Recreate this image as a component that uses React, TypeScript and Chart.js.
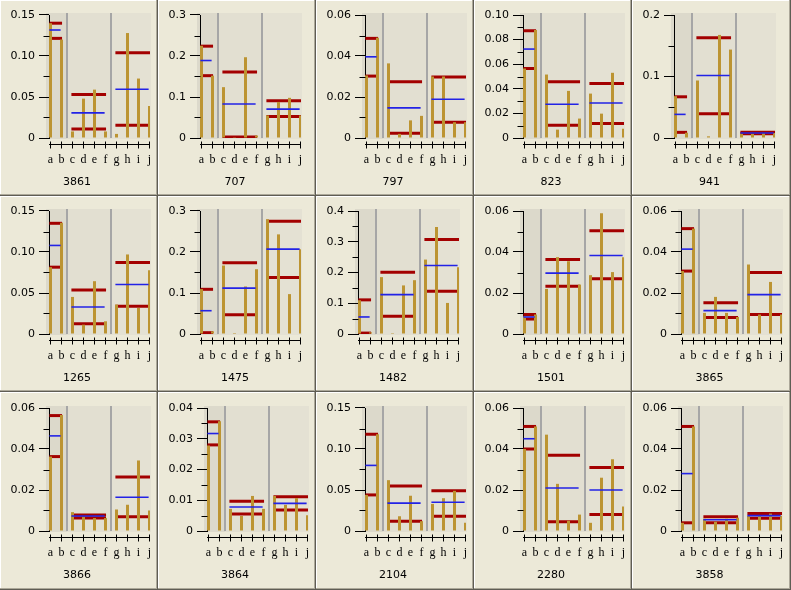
import React, { useEffect, useRef } from "react";
import { Chart, registerables } from "chart.js";

Chart.register(...registerables);

const categories = ["a", "b", "c", "d", "e", "f", "g", "h", "i", "j"];
const groupRanges = [[0, 1], [2, 5], [6, 9]];
const panelTitles = ["3861", "707", "797", "823", "941", "1265", "1475", "1482", "1501", "3865", "3866", "3864", "2104", "2280", "3858"];
const yMaxValues = [0.15, 0.3, 0.06, 0.1, 0.2, 0.15, 0.3, 0.4, 0.06, 0.06, 0.06, 0.04, 0.15, 0.06, 0.06];
const yStepValues = [0.05, 0.1, 0.02, 0.02, 0.1, 0.05, 0.1, 0.1, 0.02, 0.02, 0.02, 0.01, 0.05, 0.02, 0.02];
const yTickLabels = [
  ["0", "0.05", "0.10", "0.15"],
  ["0", "0.1", "0.2", "0.3"],
  ["0", "0.02", "0.04", "0.06"],
  ["0", "0.02", "0.04", "0.06", "0.08", "0.10"],
  ["0", "0.1", "0.2"],
  ["0", "0.05", "0.10", "0.15"],
  ["0", "0.1", "0.2", "0.3"],
  ["0", "0.1", "0.2", "0.3", "0.4"],
  ["0", "0.02", "0.04", "0.06"],
  ["0", "0.02", "0.04", "0.06"],
  ["0", "0.02", "0.04", "0.06"],
  ["0", "0.01", "0.02", "0.03", "0.04"],
  ["0", "0.05", "0.10", "0.15"],
  ["0", "0.02", "0.04", "0.06"],
  ["0", "0.02", "0.04", "0.06"],
];

const barValues = [
  [0.14, 0.12, 0.008, 0.048, 0.059, 0.008, 0.005, 0.128, 0.0725, 0.039],
  [0.225, 0.152, 0.124, 0.002, 0.197, 0.006, 0.055, 0.088, 0.098, 0.055],
  [0.0305, 0.0489, 0.0364, 0.002, 0.0086, 0.0108, 0.03, 0.03, 0.0077, 0.0077],
  [0.0565, 0.0878, 0.0516, 0.0068, 0.0383, 0.0158, 0.0361, 0.0198, 0.053, 0.0076],
  [0.068, 0.0086, 0.0935, 0.0027, 0.1676, 0.1438, 0.007, 0.007, 0.008, 0.008],
  [0.0815, 0.1357, 0.0452, 0.0114, 0.0644, 0.0155, 0.0359, 0.097, 0.0318, 0.0778],
  [0.1095, 0.0065, 0.167, 0.0024, 0.116, 0.158, 0.28, 0.243, 0.0973, 0.207],
  [0.1098, 0.0054, 0.185, 0.003, 0.158, 0.175, 0.242, 0.348, 0.101, 0.217],
  [0.0086, 0.0095, 0.022, 0.0375, 0.0355, 0.0241, 0.0287, 0.0589, 0.0302, 0.0375],
  [0.0307, 0.0514, 0.0103, 0.0181, 0.0103, 0.0083, 0.0339, 0.0095, 0.0254, 0.0095],
  [0.0363, 0.0566, 0.0092, 0.0068, 0.0063, 0.0063, 0.0105, 0.0128, 0.0344, 0.01],
  [0.0278, 0.0357, 0.0072, 0.0049, 0.0114, 0.0072, 0.0114, 0.0085, 0.0107, 0.0051],
  [0.044, 0.118, 0.062, 0.018, 0.043, 0.012, 0.033, 0.04, 0.049, 0.01],
  [0.04, 0.051, 0.047, 0.023, 0.005, 0.008, 0.004, 0.026, 0.035, 0.012],
  [0.004, 0.051, 0.006, 0.0045, 0.006, 0.0065, 0.0075, 0.0075, 0.0085, 0.0075],
];

const upperValues = [
  [0.14, 0.053, 0.104],
  [0.224, 0.161, 0.091],
  [0.0486, 0.0274, 0.0297],
  [0.0872, 0.0457, 0.0443],
  [0.067, 0.163, 0.0092],
  [0.135, 0.0538, 0.0872],
  [0.109, 0.1735, 0.275],
  [0.111, 0.201, 0.3076],
  [0.0095, 0.0364, 0.0504],
  [0.0514, 0.0152, 0.03],
  [0.0563, 0.0078, 0.0264],
  [0.0355, 0.0097, 0.0111],
  [0.118, 0.055, 0.049],
  [0.051, 0.037, 0.031],
  [0.051, 0.007, 0.0085],
];

const meanValues = [
  [0.1317, 0.0306, 0.0595],
  [0.189, 0.083, 0.0705],
  [0.0396, 0.0147, 0.0189],
  [0.0723, 0.0274, 0.0285],
  [0.0384, 0.1016, 0.0081],
  [0.108, 0.033, 0.0603],
  [0.0568, 0.112, 0.207],
  [0.0554, 0.128, 0.223],
  [0.0083, 0.0297, 0.0383],
  [0.0414, 0.0114, 0.0192],
  [0.0464, 0.0073, 0.0165],
  [0.0317, 0.0078, 0.009],
  [0.08, 0.034, 0.035],
  [0.045, 0.021, 0.02],
  [0.028, 0.0055, 0.0075],
];

const lowerValues = [
  [0.1215, 0.011, 0.0155],
  [0.152, 0.0025, 0.0527],
  [0.0302, 0.0023, 0.0077],
  [0.0565, 0.0103, 0.0117],
  [0.0092, 0.0395, 0.007],
  [0.0815, 0.0126, 0.0338],
  [0.0032, 0.047, 0.138],
  [0.003, 0.0576, 0.139],
  [0.0073, 0.0233, 0.0269],
  [0.0307, 0.008, 0.0095],
  [0.0363, 0.0063, 0.007],
  [0.028, 0.0055, 0.0068],
  [0.044, 0.012, 0.018],
  [0.04, 0.0045, 0.008],
  [0.004, 0.004, 0.0062],
];

const PANEL_BG = "#ece9d8";
const GROUP_BG = ["#dcd9cb", "#e2dfd1", "#e4e1d3"];
const BAR_COLOR = "#bc9432";
const RED = "#a30000";
const BLUE = "#2222e6";
const SEP = "#a6a6a6";
const NUM_FONT = "'DejaVu Sans'";
const LETTER_FONT = "'Liberation Serif'";
const X_MIN = -1.5 / 11;
const X_MAX = 9 + 0.5 / 11;
const PLOT_W = 101;

function Panel({ index }: { index: number }) {
  const ref = useRef<HTMLCanvasElement | null>(null);
  const col = index % 5;
  const row = Math.floor(index / 5);
  const W = col === 4 ? 159 : 158;
  const H = row === 2 ? 198 : 196;
  const left = col * 158;
  const top = row * 196;

  useEffect(() => {
    const canvas = ref.current;
    if (!canvas) return;
    const labels = yTickLabels[index];
    const step = yStepValues[index];
    const yMax = yMaxValues[index];
    const tickVals = labels.map((_, k) => k * step);

    const m = document.createElement("canvas").getContext("2d")!;
    m.font = `11px ${NUM_FONT}`;
    const lw = Math.max(...labels.map((l) => m.measureText(l).width));
    const yW = Math.round(11 + lw + 14);
    const topPad = row === 2 ? 16 : 15;
    const zeroY = row === 2 ? 139 : 138;

    const datasets: any[] = [];
    datasets.push({
      type: "bar",
      data: barValues[index].map((v, i) => ({ x: i, y: v })),
      backgroundColor: BAR_COLOR,
      borderWidth: 0,
      barThickness: 3,
      inflateAmount: 0,
      order: 2,
    });
    groupRanges.forEach(([s, e], g) => {
      [upperValues[index][g], lowerValues[index][g]].forEach((v) => {
        datasets.push({
          type: "line",
          data: [
            { x: s - 0.1, y: v },
            { x: e + 0.05, y: v },
          ],
          borderColor: RED,
          borderWidth: 3,
          borderCapStyle: "butt",
          pointRadius: 0,
          fill: false,
          order: 3,
        });
      });
      datasets.push({
        type: "line",
        data: [
          { x: s - 0.1, y: meanValues[index][g] },
          { x: e - 0.08, y: meanValues[index][g] },
        ],
        borderColor: BLUE,
        borderWidth: 1.6,
        borderCapStyle: "butt",
        pointRadius: 0,
        fill: false,
        order: 1,
      });
    });

    const deco = {
      id: "deco" + index,
      beforeDraw(chart: any) {
        const ctx = chart.ctx;
        const ca = chart.chartArea;
        const xs = chart.scales.x;
        const s1 = Math.round(xs.getPixelForValue(1.5));
        const s2 = Math.round(xs.getPixelForValue(5.5));
        ctx.save();
        const t = Math.round(ca.top) - 2;
        const b = Math.round(ca.bottom) + 1;
        const l = Math.round(ca.left) - 3;
        const r = Math.round(ca.right) + 1;
        ctx.fillStyle = GROUP_BG[0];
        ctx.fillRect(l, t, s1 - l, b - t);
        ctx.fillStyle = GROUP_BG[1];
        ctx.fillRect(s1, t, s2 - s1, b - t);
        ctx.fillStyle = GROUP_BG[2];
        ctx.fillRect(s2, t, r - s2, b - t);
        ctx.restore();
      },
      beforeDatasetsDraw(chart: any) {
        const ctx = chart.ctx;
        const ca = chart.chartArea;
        const xs = chart.scales.x;
        ctx.save();
        ctx.strokeStyle = SEP;
        ctx.lineWidth = 2;
        [1.5, 5.5].forEach((v) => {
          const px = Math.round(xs.getPixelForValue(v));
          ctx.beginPath();
          ctx.moveTo(px, Math.round(ca.top) - 2);
          ctx.lineTo(px, Math.round(ca.bottom));
          ctx.stroke();
        });
        ctx.restore();
      },
      afterDraw(chart: any) {
        const ctx = chart.ctx;
        const ca = chart.chartArea;
        const xs = chart.scales.x;
        const ys = chart.scales.y;
        ctx.save();
        ctx.strokeStyle = "#000";
        ctx.lineWidth = 1;
        const axX = Math.round(ca.left) + 0.5;
        for (let k = 0; k < tickVals.length - 1; k++) {
          const py = Math.round(ys.getPixelForValue((k + 0.5) * step)) + 0.5;
          ctx.beginPath();
          ctx.moveTo(axX - 6, py);
          ctx.lineTo(axX, py);
          ctx.stroke();
        }
        const ay = Math.round(ca.bottom) + 6.5;
        ctx.beginPath();
        ctx.moveTo(Math.round(ca.left), ay);
        ctx.lineTo(Math.round(ca.right), ay);
        ctx.stroke();
        ctx.fillStyle = "#000";
        ctx.font = `12px ${LETTER_FONT}`;
        ctx.textAlign = "center";
        ctx.textBaseline = "alphabetic";
        categories.forEach((c, i) => {
          const px = Math.floor(xs.getPixelForValue(i)) + 0.5;
          ctx.beginPath();
          ctx.moveTo(px, ay - 3);
          ctx.lineTo(px, ay + 4);
          ctx.stroke();
          ctx.fillText(c, px, Math.round(ca.bottom) + 25);
        });
        ctx.font = `11px ${NUM_FONT}`;
        ctx.fillText(panelTitles[index], W / 2 - 2, Math.round(ca.bottom) + 47);
        ctx.restore();
      },
    };

    const chart = new Chart(canvas, {
      type: "bar",
      data: { datasets },
      options: {
        animation: false,
        responsive: false,
        devicePixelRatio: 1,
        events: [],
        layout: {
          padding: { left: 0, right: W - yW - PLOT_W, top: topPad, bottom: H - zeroY },
        },
        plugins: { legend: { display: false }, tooltip: { enabled: false }, title: { display: false } },
        scales: {
          x: {
            type: "linear",
            min: X_MIN,
            max: X_MAX,
            offset: false,
            display: false,
          },
          y: {
            type: "linear",
            min: 0,
            max: yMax,
            position: "left",
            border: { display: true, color: "#000", width: 1 },
            grid: { display: true, drawOnChartArea: false, drawTicks: true, tickLength: 10, tickColor: "#000", tickWidth: 1 },
            ticks: {
              color: "#000",
              padding: 4,
              font: { family: NUM_FONT, size: 11 },
              callback: (_v: any, i: number) => labels[i],
            },
            afterBuildTicks: (scale: any) => {
              scale.ticks = tickVals.map((v) => ({ value: v }));
            },
            afterFit: (scale: any) => {
              scale.width = yW;
            },
          },
        },
      } as any,
      plugins: [deco],
    });
    return () => chart.destroy();
  }, [index]);

  return (
    <div
      style={{
        position: "absolute",
        left,
        top,
        width: W,
        height: H,
        background: PANEL_BG,
        boxShadow: "inset -1px -1px 0 #5f5d54, inset -2px -2px 0 #aca899, inset 1px 1px 0 #ffffff",
      }}
    >
      <canvas ref={ref} width={W} height={H} style={{ display: "block", width: W, height: H }} />
    </div>
  );
}

export default function App() {
  return (
    <div style={{ position: "absolute", left: 0, top: 0, width: 791, height: 590, background: PANEL_BG, overflow: "hidden" }}>
      {panelTitles.map((_, i) => (
        <Panel key={i} index={i} />
      ))}
    </div>
  );
}
